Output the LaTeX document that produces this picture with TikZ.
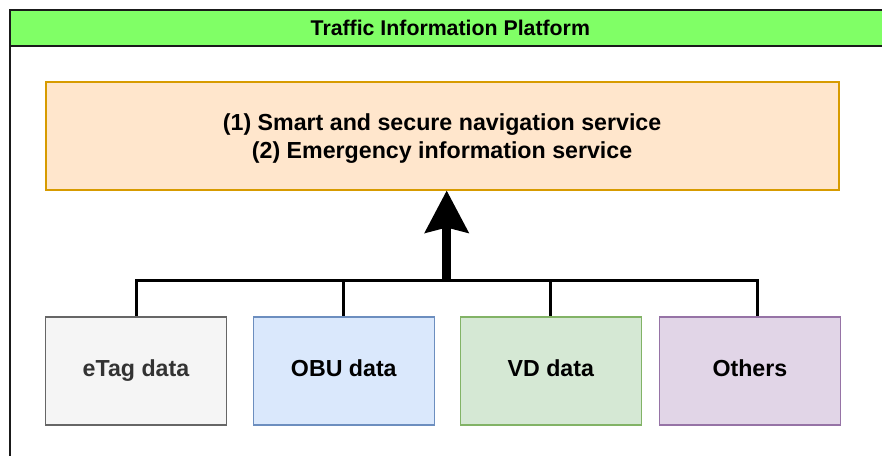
\documentclass[tikz,border=0pt]{standalone}
\usepackage{fontspec}
\setmainfont{Liberation Sans}
\usetikzlibrary{arrows.meta}

\definecolor{frameclr}{HTML}{1A1A1A}
\definecolor{hdrfill}{HTML}{80FF66}
\definecolor{svcfill}{HTML}{FFE6CC}
\definecolor{svcdraw}{HTML}{D79B00}
\definecolor{grayfill}{HTML}{F5F5F5}
\definecolor{graydraw}{HTML}{666666}
\definecolor{graytext}{HTML}{333333}
\definecolor{bluefill}{HTML}{DAE8FC}
\definecolor{bluedraw}{HTML}{6C8EBF}
\definecolor{greenfill}{HTML}{D5E8D4}
\definecolor{greendraw}{HTML}{82B366}
\definecolor{purplefill}{HTML}{E1D5E7}
\definecolor{purpledraw}{HTML}{9673A6}

\tikzset{
  boxtext/.style={font=\bfseries\fontsize{23.2}{28.6}\selectfont},
  svcbox/.style={draw=svcdraw, fill=svcfill, line width=2pt, inner sep=0pt,
    minimum width=792.8pt, minimum height=107.5pt},
  srcbox/.style={line width=1.6pt, inner sep=0pt, minimum width=181pt,
    minimum height=108.3pt, text height=16.9pt, text depth=4.9pt, boxtext},
  wire/.style={draw=black, line width=3pt, line join=miter},
  uparrow/.style={draw=black, line width=8.5pt,
    -{Stealth[length=42pt, width=43pt, inset=5pt]}},
}

\begin{document}
\begin{tikzpicture}[x=1pt, y=-1pt]
  \useasboundingbox (0,0) rectangle (882,455);
  \clip (0,0) rectangle (882,455);
  \fill[white] (0,0) rectangle (882,455);

  % platform container with its title band
  \draw[frameclr, line width=2pt] (9.5,9.5) rectangle (892,470);
  \draw[frameclr, line width=2pt, fill=hdrfill] (9.5,9.5) rectangle (892,45.7);
  \node[font=\bfseries\fontsize{21.3}{25}\selectfont] (title) at (450.3,28.3)
    {Traffic Information Platform};

  % services
  \node[svcbox] (svc) at (442.1,135.75) {};
  \node[boxtext, align=center] (svctext) at ([yshift=-3pt]svc.center)
    {(1) Smart and secure navigation service\\(2) Emergency information service};

  % data sources
  \node[srcbox, draw=graydraw, fill=grayfill, text=graytext] (etag) at (136,370.85) {eTag data};
  \node[srcbox, draw=bluedraw, fill=bluefill] (obu) at (343.8,370.85) {OBU data};
  \node[srcbox, draw=greendraw, fill=greenfill] (vd) at (550.8,370.85) {VD data};
  \node[srcbox, draw=purpledraw, fill=purplefill] (others) at (749.9,370.85) {Others};

  % collecting bus and the arrow up to the services
  \coordinate (bus) at (446.7,280);
  \coordinate (othtop) at ([xshift=7.6pt]others.north);
  \draw[wire] (etag.north) |- (bus) -| (othtop);
  \draw[wire] (obu.north) -- (obu.north |- bus);
  \draw[wire] (vd.north) -- (vd.north |- bus);
  \draw[uparrow] (bus) -- (bus |- svc.south);
\end{tikzpicture}
\end{document}
